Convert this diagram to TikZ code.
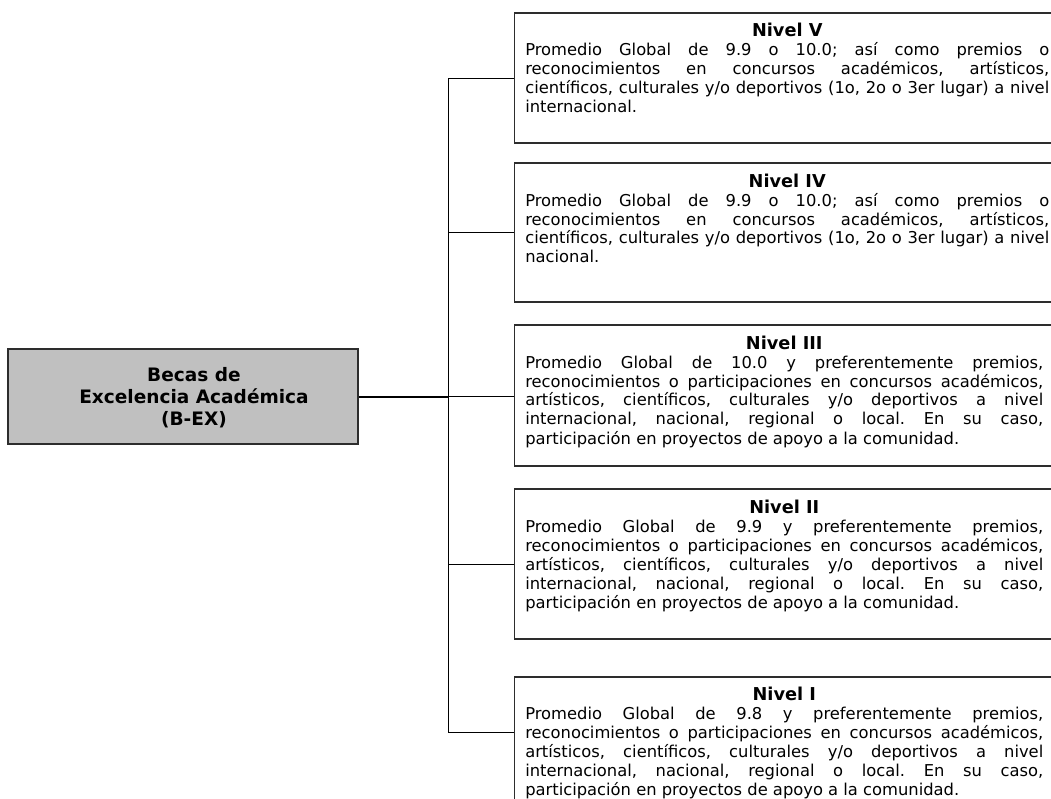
\documentclass[tikz,border=0pt]{standalone}
\usepackage{fontspec}
\setmainfont{DejaVu Sans}
\usetikzlibrary{fit}
\definecolor{boxgray}{RGB}{192,192,192}
\definecolor{edgegray}{RGB}{45,45,45}
\newcommand{\lvtext}[3]{\parbox[t]{#1}{\fontsize{12.25pt}{14.25pt}\selectfont
  \frenchspacing\tolerance=10000\hbadness=10000\hyphenpenalty=10000\exhyphenpenalty=10000
  {\centering\bfseries\fontsize{13.3pt}{14.25pt}\selectfont #2\par}#3}}
\tikzset{
  lvbox/.style={draw=edgegray, line width=0.9pt, inner sep=0pt, fill=white},
  mainbox/.style={draw=edgegray, line width=1pt, inner sep=0pt, fill=boxgray},
  lvlabel/.style={anchor=base west, inner sep=0pt, text=black},
  conn/.style={draw=black, line width=0.85pt},
  mainconn/.style={draw=black, line width=1.5pt}
}
\begin{document}
\begin{tikzpicture}[x=0.75pt, y=-0.75pt]
\useasboundingbox (0,0) rectangle (1051,799);
\clip (0,0) rectangle (1051,799);
\fill[white] (0,0) rectangle (1051,799);

% main box
\node[mainbox, fit={(8,349) (358,444)}] (main) {};
\node[anchor=base, inner sep=0pt] (maintext) at (194,381)
  {\parbox[t]{300pt}{\centering\bfseries\fontsize{13.9pt}{16.5pt}\selectfont Becas de\\Excelencia Académica\\(B-EX)}};

% level boxes
\node[lvbox, fit={(514.5,13) (1070,143)}] (b5) {};
\node[lvbox, fit={(514.5,163) (1070,302)}] (b4) {};
\node[lvbox, fit={(514.5,325) (1056,466)}] (b3) {};
\node[lvbox, fit={(514.5,489) (1056,639)}] (b2) {};
\node[lvbox, fit={(514.5,677) (1056,830)}] (b1) {};

\node[lvlabel] (t5) at (525,37) {\lvtext{393pt}{Nivel V}{Promedio Global de 9.9 o 10.0; así como premios o\linebreak
 reconocimientos en concursos académicos, artísticos,\linebreak
 científicos, culturales y/o deportivos (1o, 2o o 3er lugar) a nivel\linebreak
 internacional.}};
\node[lvlabel] (t4) at (525,187) {\lvtext{393pt}{Nivel IV}{Promedio Global de 9.9 o 10.0; así como premios o\linebreak
 reconocimientos en concursos académicos, artísticos,\linebreak
 científicos, culturales y/o deportivos (1o, 2o o 3er lugar) a nivel\linebreak
 nacional.}};
\node[lvlabel] (t3) at (525,349) {\lvtext{388.5pt}{Nivel III}{Promedio Global de 10.0 y preferentemente premios,\linebreak
 reconocimientos o participaciones en concursos académicos,\linebreak
 artísticos, científicos, culturales y/o deportivos a nivel\linebreak
 internacional, nacional, regional o local. En su caso,\linebreak
 participación en proyectos de apoyo a la comunidad.}};
\node[lvlabel] (t2) at (525,513) {\lvtext{388.5pt}{Nivel II}{Promedio Global de 9.9 y preferentemente premios,\linebreak
 reconocimientos o participaciones en concursos académicos,\linebreak
 artísticos, científicos, culturales y/o deportivos a nivel\linebreak
 internacional, nacional, regional o local. En su caso,\linebreak
 participación en proyectos de apoyo a la comunidad.}};
\node[lvlabel] (t1) at (525,700) {\lvtext{388.5pt}{Nivel I}{Promedio Global de 9.8 y preferentemente premios,\linebreak
 reconocimientos o participaciones en concursos académicos,\linebreak
 artísticos, científicos, culturales y/o deportivos a nivel\linebreak
 internacional, nacional, regional o local. En su caso,\linebreak
 participación en proyectos de apoyo a la comunidad.}};

% connectors
\coordinate (j5) at (448.5,78.5);
\coordinate (j4) at (448.5,232.5);
\coordinate (j2) at (448.5,564.5);
\coordinate (j1) at (448.5,732.5);
\draw[mainconn] (main.east) -- (main.east -| j5) coordinate (j3);
\draw[conn] (j5) -- (j1);
\draw[conn] (j5) -- (j5 -| b5.west);
\draw[conn] (j4) -- (j4 -| b4.west);
\draw[conn] (j3) -- (j3 -| b3.west);
\draw[conn] (j2) -- (j2 -| b2.west);
\draw[conn] (j1) -- (j1 -| b1.west);
\end{tikzpicture}
\end{document}
